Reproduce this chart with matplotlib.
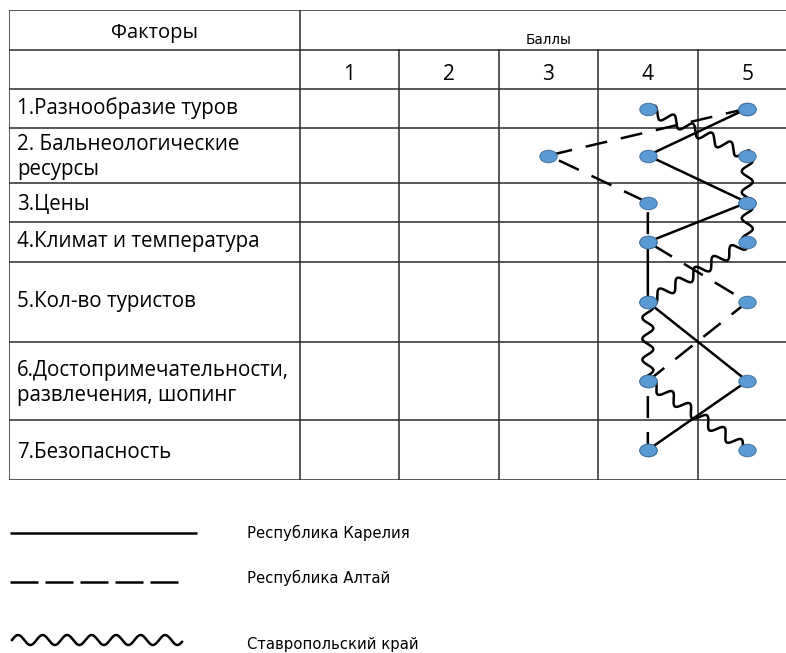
import numpy as np
import matplotlib
matplotlib.use("Agg")
import matplotlib.pyplot as plt
from matplotlib.path import Path
from matplotlib.transforms import Affine2D

plt.rcParams['font.family'] = ['Open Sans', 'DejaVu Sans']

# factors and scores
factors = [
    "1.Разнообразие туров",
    "2. Бальнеологические\nресурсы",
    "3.Цены",
    "4.Климат и температура",
    "5.Кол-во туристов",
    "6.Достопримечательности,\nразвлечения, шопинг",
    "7.Безопасность",
]
score_ticks = [1, 2, 3, 4, 5]
karelia = [5, 4, 5, 4, 4, 5, 4]
altai = [5, 3, 4, 4, 5, 4, 4]
stavropol = [4, 5, 5, 5, 4, 4, 5]
series_names = ["Республика Карелия", "Республика Алтай", "Ставропольский край"]

# table layout (pixel rows from the top of the image)
row_edges = [10, 50, 89, 128, 183, 222, 262, 342, 420, 480]
W, H = 786, 653
DOT = '#5b9bd5'
DOT_EDGE = '#41719c'
GRID = '#2b2b2b'
PX = 72 / 100  # points per pixel at dpi 100

fig = plt.figure(figsize=(W / 100, H / 100), dpi=100)

# table axes: x in score units (column k spans k-0.5..k+0.5), y in pixels
left_px, right_px = 9, 797
ax = fig.add_axes([left_px / W, 1 - 480 / H, (right_px - left_px) / W, (480 - 10) / H])
col_w = 99.5
x_left = 0.5 - (300 - left_px) / col_w
ax.set_xlim(x_left, 5.5)
ax.set_ylim(480, 10)
ax.axis('off')

lw_grid = 1.1
for y in row_edges:
    ax.plot([x_left, 5.5], [y, y], color=GRID, lw=lw_grid, solid_capstyle='butt', zorder=1)
ax.plot([x_left, x_left], [10, 480], color=GRID, lw=lw_grid, zorder=1)
ax.plot([0.5, 0.5], [10, 480], color=GRID, lw=lw_grid, zorder=1)
for k in score_ticks[1:]:
    ax.plot([k - 0.5, k - 0.5], [50, 480], color=GRID, lw=lw_grid, zorder=1)

# header texts
ax.text((x_left + 0.5) / 2, 33, "Факторы", ha='center', va='center', fontsize=14.5)
ax.text((0.5 + 5.5) / 2, 40, "Баллы", ha='center', va='center', fontsize=9.8,
        family=['DejaVu Sans'])
for k in score_ticks:
    ax.text(k, 75, str(k), ha='center', va='center', fontsize=15)

row_centers = [(row_edges[i + 2] + row_edges[i + 3]) / 2 for i in range(len(factors))]
text_y = [108, 157, 204, 242, 302, 383, 452]
for name, y in zip(factors, text_y):
    ax.text(x_left + 0.08, y, name, ha='left', va='center', fontsize=14.8, linespacing=1.3)


def wavy_xy(axis, xs, ys, wavelength=18.0, amp=4.0):
    pts = axis.transData.transform(np.column_stack([xs, ys]))
    out = []
    for p0, p1 in zip(pts[:-1], pts[1:]):
        d = p1 - p0
        L = np.hypot(*d)
        if L == 0:
            continue
        n = np.array([-d[1], d[0]]) / L
        s = np.linspace(0, L, int(L * 2) + 2)
        off = amp * np.sin(2 * np.pi * s / wavelength)
        seg = p0 + np.outer(s / L, d) + np.outer(off, n)
        out.append(seg)
    out = np.vstack(out)
    inv = axis.transData.inverted().transform(out)
    return inv[:, 0], inv[:, 1]


LW = 1.8
dash = (0, (22 * PX / LW, 14 * PX / LW))

ax.plot(karelia, row_centers, color='black', lw=LW, zorder=2)
ax.plot(altai, row_centers, color='black', lw=LW, linestyle=dash, zorder=2)
wx, wy = wavy_xy(ax, stavropol, row_centers, wavelength=21, amp=5.5)
ax.plot(wx, wy, color='black', lw=LW, zorder=2)

# ellipse marker for the dots
ell = Path.unit_circle().transformed(Affine2D().scale(1.0, 0.72))
for vals in (karelia, altai, stavropol):
    ax.plot(vals, row_centers, linestyle='none', marker=ell, markersize=12.5,
            markerfacecolor=DOT, markeredgecolor=DOT_EDGE, markeredgewidth=0.7, zorder=3)

# legend drawn by hand in pixel coordinates
lax = fig.add_axes([0, 0, 1, 150 / H])
lax.set_xlim(0, W)
lax.set_ylim(H, H - 150)
lax.axis('off')

lax.plot([10, 197], [533, 533], color='black', lw=LW, solid_capstyle='butt')
lax.plot([10, 180], [582, 582], color='black', lw=LW, solid_capstyle='butt',
         dash_capstyle='butt', linestyle=(0, (28 * PX / LW, 7 * PX / LW)))
lx, ly = wavy_xy(lax, [12, 182], [640, 640], wavelength=24.5, amp=5)
lax.plot(lx, ly, color='black', lw=LW)

for name, y in zip(series_names, [533, 578, 645]):
    lax.text(247, y, name, ha='left', va='center', fontsize=10.7, family=['DejaVu Sans'])

fig.savefig("out.png", dpi=100)
